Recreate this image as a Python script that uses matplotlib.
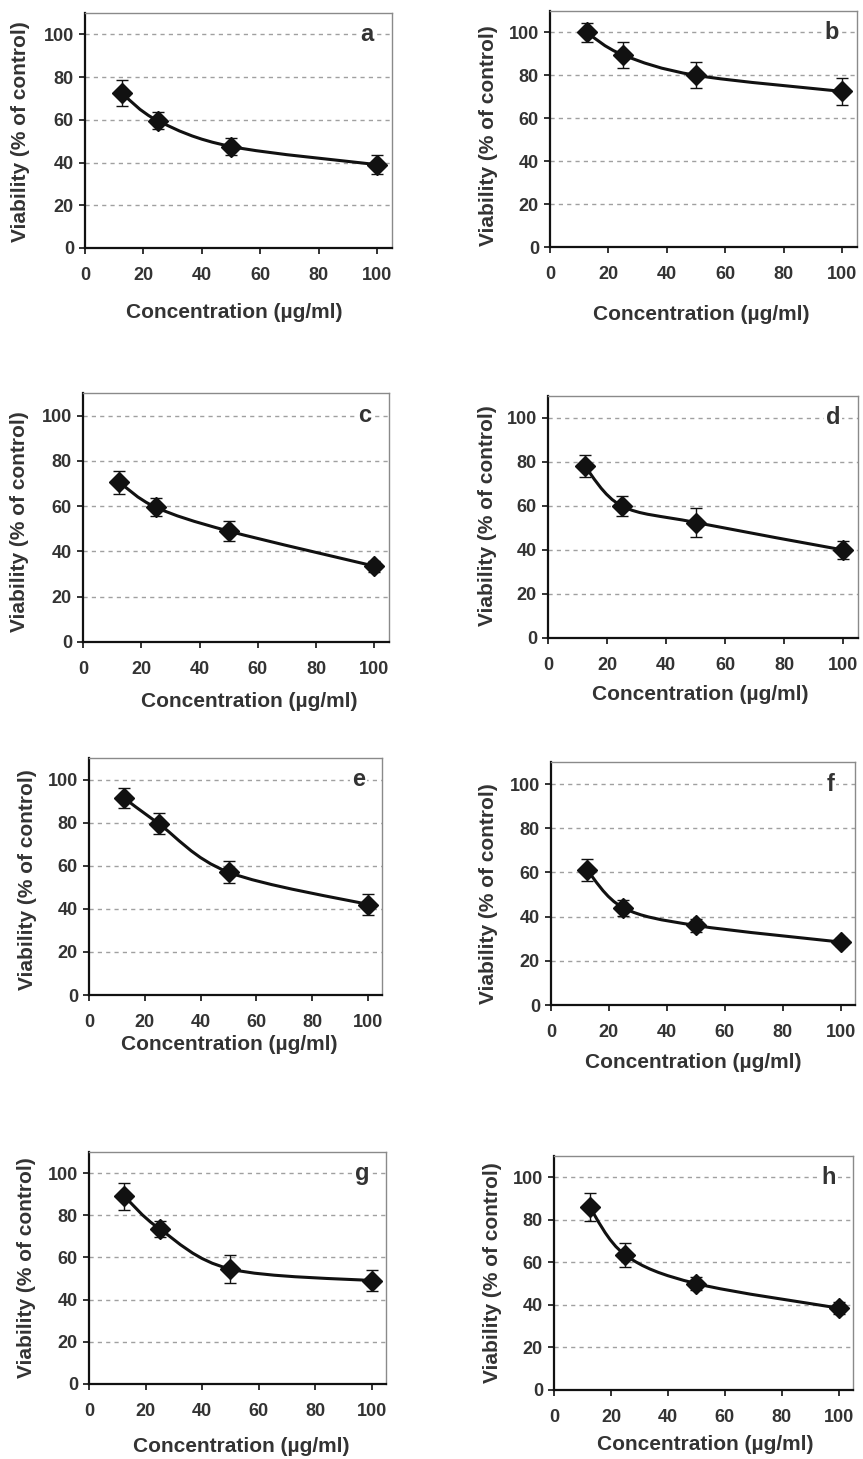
import matplotlib
matplotlib.use("Agg")
import matplotlib.pyplot as plt
import numpy as np
from matplotlib.path import Path
from matplotlib.patches import PathPatch

plt.rcParams['font.family'] = ['Liberation Sans', 'DejaVu Sans']
plt.rcParams['font.weight'] = 'bold'

W, H = 863, 1459

# data: concentration (ug/ml) and viability (% of control) with error bars
conc = [12.5, 25, 50, 100]
panel_names = ['a', 'b', 'c', 'd', 'e', 'f', 'g', 'h']

via_a = [72.5, 59.5, 47.5, 39]
err_a = [6, 4, 4, 4.5]
via_b = [100, 89.5, 80, 72.5]
err_b = [4.5, 6, 6, 6.5]
via_c = [70.5, 59.5, 49, 33.5]
err_c = [5, 4, 4.5, 2.5]
via_d = [78, 60, 52.5, 40]
err_d = [5, 4.5, 6.5, 4]
via_e = [91.5, 79.5, 57, 42]
err_e = [4.5, 5, 5, 5]
via_f = [61, 44, 36, 28.5]
err_f = [5, 3.5, 3, 2]
via_g = [89, 73.5, 54.5, 49]
err_g = [6.5, 4, 6.5, 5]
via_h = [86, 63.5, 50, 38.5]
err_h = [6.5, 5.5, 3, 3]

viability = [via_a, via_b, via_c, via_d, via_e, via_f, via_g, via_h]
errors = [err_a, err_b, err_c, err_d, err_e, err_f, err_g, err_h]

y_ticks = [0, 20, 40, 60, 80, 100]
x_ticks = [0, 20, 40, 60, 80, 100]

# layout in pixels: left, right, top, bottom of plot box
boxes = [
    (85, 392, 13, 248),
    (550, 857, 11, 247),
    (83, 389, 393, 642),
    (548, 858, 396, 638),
    (89, 382, 758, 995),
    (551, 855, 762, 1005),
    (89, 386, 1152, 1384),
    (554, 853, 1156, 1390),
]
# axis label centres in pixels: (xlabel x, xlabel y), (ylabel x, ylabel y)
xlab_pos = [(234, 312), (701, 315), (249, 702), (700, 695),
            (229, 1045), (693, 1062), (241, 1447), (705, 1445)]
ylab_pos = [(21, 132), (488, 136), (20, 522), (487, 516),
            (28, 880), (488, 894), (27, 1268), (492, 1273)]

TXT = '#333333'


def smooth_path(xs, ys):
    pts = np.column_stack([xs, ys]).astype(float)
    n = len(pts)
    verts = [pts[0]]
    codes = [Path.MOVETO]
    for i in range(n - 1):
        p0 = pts[max(i - 1, 0)]
        p1 = pts[i]
        p2 = pts[i + 1]
        p3 = pts[min(i + 2, n - 1)]
        verts += [p1 + (p2 - p0) / 6, p2 - (p3 - p1) / 6, p2]
        codes += [Path.CURVE4] * 3
    return Path(verts, codes)


fig = plt.figure(figsize=(W / 100, H / 100), dpi=100)

for k in range(8):
    l, r, t, b = boxes[k]
    ax = fig.add_axes([l / W, 1 - b / H, (r - l) / W, (b - t) / H])
    ax.set_xlim(0, 105)
    ax.set_ylim(0, 110)
    ax.set_xticks(x_ticks)
    ax.set_yticks(y_ticks)
    for yv in y_ticks[1:]:
        ax.axhline(yv, color='#a0a0a0', lw=1.0, ls=(0, (3, 3)), zorder=0)

    ax.add_patch(PathPatch(smooth_path(conc, viability[k]), fill=False,
                           lw=2.2, ec='#111111', zorder=2))
    ax.errorbar(conc, viability[k], yerr=errors[k], fmt='D', color='#111111',
                ms=10, ecolor='#111111', elinewidth=1.0, capsize=4.5,
                capthick=1.0, zorder=3)

    ax.text(96.5, 100, panel_names[k], fontsize=17, fontweight='bold',
            color=TXT, ha='center', va='center', zorder=1,
            bbox=dict(fc='white', ec='none', pad=1.5))

    for s in ['top', 'right']:
        ax.spines[s].set_color('#8a8a8a')
        ax.spines[s].set_linewidth(1.0)
    for s in ['left', 'bottom']:
        ax.spines[s].set_color('#111111')
        ax.spines[s].set_linewidth(1.6)

    ax.tick_params(axis='both', direction='out', length=4, width=1.2,
                   color='#111111', labelsize=13, labelcolor=TXT)
    ax.tick_params(axis='x', pad=10)
    ax.tick_params(axis='y', pad=4)
    for lab in ax.get_xticklabels() + ax.get_yticklabels():
        lab.set_fontweight('bold')

    ax.set_xlabel('Concentration (\u00b5g/ml)', fontsize=15, fontweight='bold',
                  color=TXT)
    ax.set_ylabel('Viability (% of control)', fontsize=15, fontweight='bold',
                  color=TXT)
    ax.xaxis.label.set_va('center')
    ax.yaxis.label.set_va('center')
    ax.xaxis.set_label_coords(xlab_pos[k][0] / W, 1 - xlab_pos[k][1] / H,
                              transform=fig.transFigure)
    ax.yaxis.set_label_coords(ylab_pos[k][0] / W, 1 - ylab_pos[k][1] / H,
                              transform=fig.transFigure)

fig.savefig('out.png', dpi=100, facecolor='white')
